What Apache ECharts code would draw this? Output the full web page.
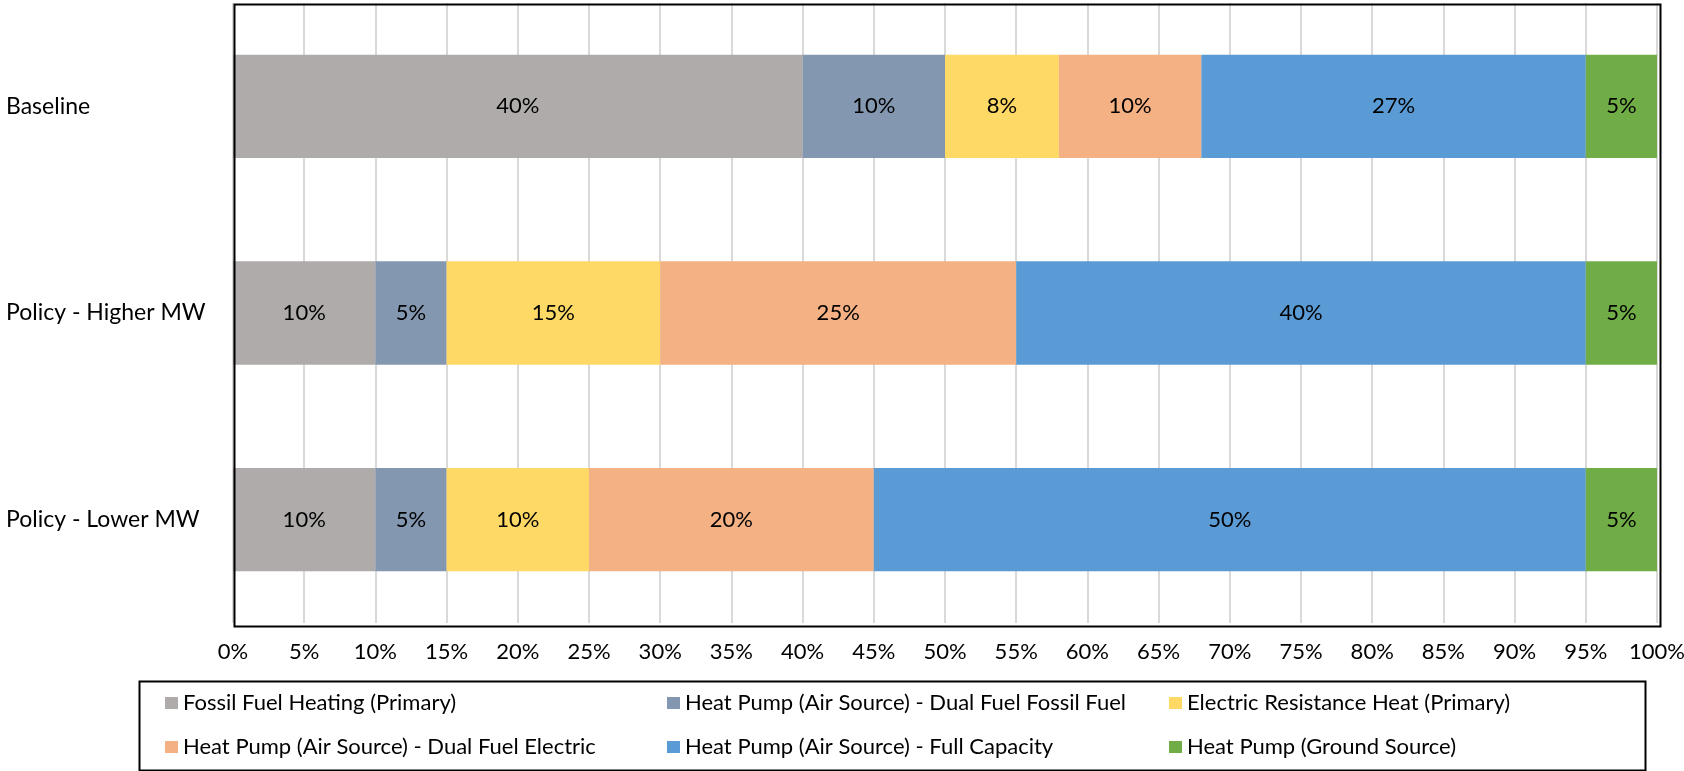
<!DOCTYPE html>
<html>
<head>
<meta charset="utf-8">
<script src="https://cdn.jsdelivr.net/npm/echarts@6/dist/echarts.min.js"></script>
<style>
  html, body { margin: 0; padding: 0; background: #ffffff; }
  #chart { width: 1684px; height: 771px; }
</style>
</head>
<body>
<div id="chart"></div>
<script>
// Scenario rows (top to bottom)
const scenarios = ['Baseline', 'Policy - Higher MW', 'Policy - Lower MW'];

// Share of heating stock by technology, % per scenario
const fossilFuelHeating   = [40, 10, 10];
const hpDualFuelFossil    = [10, 5, 5];
const electricResistance  = [8, 15, 10];
const hpDualFuelElectric  = [10, 25, 20];
const hpFullCapacity      = [27, 40, 50];
const hpGroundSource      = [5, 5, 5];

// Axis ticks
const xTickMin = 0;
const xTickMax = 100;
const xTickStep = 5;

const seriesNames = [
  'Fossil Fuel Heating (Primary)',
  'Heat Pump (Air Source) - Dual Fuel Fossil Fuel',
  'Electric Resistance Heat (Primary)',
  'Heat Pump (Air Source) - Dual Fuel Electric',
  'Heat Pump (Air Source) - Full Capacity',
  'Heat Pump (Ground Source)'
];
const seriesValues = [
  fossilFuelHeating, hpDualFuelFossil, electricResistance,
  hpDualFuelElectric, hpFullCapacity, hpGroundSource
];
const seriesColors = ['#AFABAB', '#8497B0', '#FFD966', '#F4B183', '#5B9BD5', '#70AD47'];

const FONT = 'Lato, "Open Sans", sans-serif';
const FS = 22;

// Plot rectangle
const PLOT_LEFT = 233, PLOT_TOP = 3, PLOT_W = 1424, PLOT_H = 620;

const chart = echarts.init(document.getElementById('chart'), null, { renderer: 'canvas' });

const series = seriesNames.map((name, i) => ({
  name: name,
  type: 'bar',
  stack: 'total',
  barWidth: '50%',
  data: seriesValues[i],
  itemStyle: { color: seriesColors[i] },
  label: {
    show: true,
    position: 'inside',
    formatter: '{c}%',
    color: '#000',
    fontFamily: FONT,
    fontSize: FS
  },
  emphasis: { disabled: true }
}));

function legendColumn(left, names) {
  return {
    orient: 'vertical',
    left: left,
    top: 690,
    icon: 'rect',
    itemWidth: 13,
    itemHeight: 12,
    itemGap: 18,
    padding: 0,
    selectedMode: false,
    data: names,
    textStyle: { fontFamily: FONT, fontSize: FS, color: '#000', lineHeight: 26 }
  };
}

chart.setOption({
  animation: false,
  backgroundColor: '#ffffff',
  textStyle: { fontFamily: FONT },
  grid: {
    left: PLOT_LEFT,
    top: PLOT_TOP,
    width: PLOT_W,
    height: PLOT_H,
    outerBoundsMode: 'none',
    containLabel: false
  },
  xAxis: {
    type: 'value',
    min: xTickMin,
    max: xTickMax,
    interval: xTickStep,
    axisLine: { show: false },
    axisTick: { show: false },
    axisLabel: {
      formatter: '{value}%',
      color: '#000',
      fontFamily: FONT,
      fontSize: FS,
      margin: 18
    },
    splitLine: { show: true, lineStyle: { color: '#D9D9D9', width: 2 } }
  },
  yAxis: {
    type: 'category',
    data: scenarios,
    inverse: true,
    axisLine: { show: false },
    axisTick: { show: false },
    splitLine: { show: false },
    axisLabel: {
      align: 'left',
      margin: 227,
      color: '#000',
      fontFamily: FONT,
      fontSize: 23
    }
  },
  legend: [
    legendColumn(165, [seriesNames[0], seriesNames[3]]),
    legendColumn(667, [seriesNames[1], seriesNames[4]]),
    legendColumn(1169, [seriesNames[2], seriesNames[5]])
  ],
  graphic: [
    {
      // plot frame
      type: 'rect',
      left: PLOT_LEFT - 1,
      top: PLOT_TOP - 1,
      z: 100,
      shape: { width: PLOT_W + 2, height: PLOT_H + 2 },
      style: { fill: 'none', stroke: '#000', lineWidth: 2 },
      silent: true
    },
    {
      // legend frame
      type: 'rect',
      left: 137,
      top: 679,
      shape: { width: 1506, height: 89 },
      style: { fill: 'none', stroke: '#000', lineWidth: 2 },
      silent: true
    }
  ],
  series: series
});
</script>
</body>
</html>
